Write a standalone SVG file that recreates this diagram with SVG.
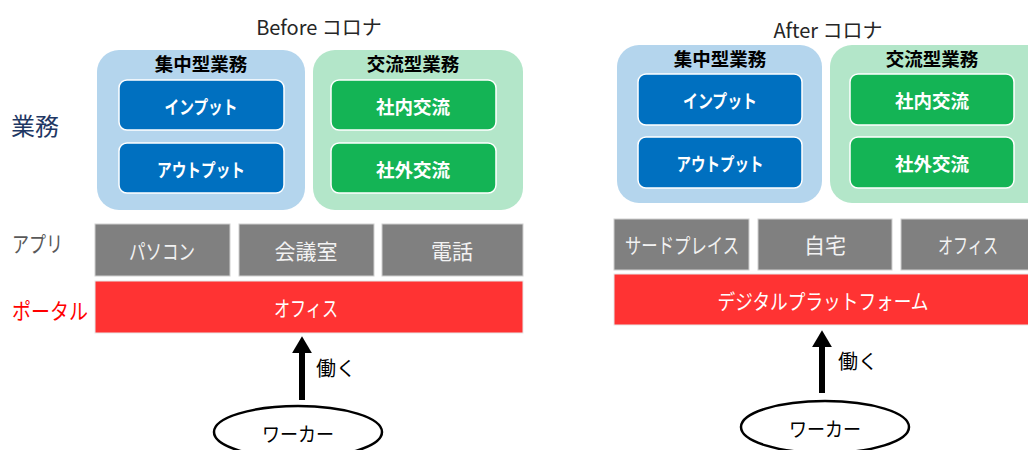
<svg xmlns="http://www.w3.org/2000/svg" width="1028" height="450" viewBox="0 0 1028 450">
<defs>
<style>
text{font-family:"Noto Sans CJK JP","Noto Sans",sans-serif;text-anchor:middle;dominant-baseline:central}
.ttl{font-size:20px;fill:#262626}
.hdr{font-size:18.5px;font-weight:bold;fill:#000}
.blueC{fill:#B4D5ED}
.greenC{fill:#B3E6C9}
.blue{fill:#0070C0;stroke:#fff;stroke-width:1.5}
.green{fill:#14B455;stroke:#fff;stroke-width:1.5}
.in{font-size:18.5px;font-weight:bold;fill:#fff}
.gray{fill:#808080;stroke:#D0D0D0;stroke-width:1}
.gt{font-size:21px;fill:#F2F2F2}
.red{fill:#FF3333;stroke:#E8E8E8;stroke-width:1}
.rt{font-size:21px;fill:#fff}
.lbl{text-anchor:start}
.wk{fill:#fff;stroke:#000;stroke-width:2.5}
.wt{font-size:20px;fill:#000}
</style>
<marker id="ah" markerWidth="3" markerHeight="3.4" refX="0" refY="1.65" orient="auto" markerUnits="strokeWidth"><path d="M0,0 L2.8,1.65 L0,3.3 Z" fill="#000"/></marker>
</defs>
<rect width="1028" height="450" fill="#fff"/>

<!-- Left labels -->
<text class="ttl" x="319" y="26">Before コロナ</text>
<text class="lbl" x="11" y="124" style="font-size:24px;fill:#1F3864">業務</text>
<text class="lbl" x="12" y="242" style="font-size:22px;fill:#595959" textLength="51" lengthAdjust="spacingAndGlyphs">アプリ</text>
<text class="lbl" x="12" y="309" style="font-size:22px;fill:#FF0000" textLength="76" lengthAdjust="spacingAndGlyphs">ポータル</text>

<!-- Before -->
<g id="b-shuchu"><rect class="blueC" x="97" y="50" width="208" height="160" rx="22"/><text class="hdr" x="201" y="63">集中型業務</text></g>
<g id="b-input"><rect class="blue" x="119" y="80" width="165" height="50" rx="8"/><text class="in" x="201" y="106" textLength="73" lengthAdjust="spacingAndGlyphs">インプット</text></g>
<g id="b-output"><rect class="blue" x="119" y="143" width="165" height="50" rx="8"/><text class="in" x="201" y="169" textLength="88" lengthAdjust="spacingAndGlyphs">アウトプット</text></g>
<g id="b-koryu"><rect class="greenC" x="313" y="50" width="210" height="160" rx="22"/><text class="hdr" x="413" y="63">交流型業務</text></g>
<g id="b-shanai"><rect class="green" x="331" y="80" width="165" height="50" rx="8"/><text class="in" x="413" y="106">社内交流</text></g>
<g id="b-shagai"><rect class="green" x="331" y="143" width="165" height="50" rx="8"/><text class="in" x="413" y="169">社外交流</text></g>
<g id="b-pc"><rect class="gray" x="95" y="224" width="135" height="52"/><text class="gt" x="162" y="250" textLength="66" lengthAdjust="spacingAndGlyphs">パソコン</text></g>
<g id="b-meeting"><rect class="gray" x="239" y="224" width="135" height="52"/><text class="gt" x="306" y="250">会議室</text></g>
<g id="b-phone"><rect class="gray" x="382" y="224" width="141" height="52"/><text class="gt" x="452" y="250">電話</text></g>
<g id="b-office"><rect class="red" x="95" y="281" width="428" height="52"/><text class="rt" x="306" y="307" textLength="64" lengthAdjust="spacingAndGlyphs">オフィス</text></g>
<g id="b-worker"><ellipse class="wk" cx="298" cy="432" rx="84" ry="26"/><text class="wt" x="298" y="433" textLength="72" lengthAdjust="spacingAndGlyphs">ワーカー</text></g>

<!-- After -->
<text class="ttl" x="828" y="29">After コロナ</text>
<g id="a-shuchu"><rect class="blueC" x="617" y="45" width="205" height="158" rx="22"/><text class="hdr" x="720" y="58">集中型業務</text></g>
<g id="a-input"><rect class="blue" x="638" y="74" width="164" height="51" rx="8"/><text class="in" x="720" y="100" textLength="74" lengthAdjust="spacingAndGlyphs">インプット</text></g>
<g id="a-output"><rect class="blue" x="638" y="137" width="164" height="51" rx="8"/><text class="in" x="720" y="163" textLength="87" lengthAdjust="spacingAndGlyphs">アウトプット</text></g>
<g id="a-koryu"><rect class="greenC" x="830" y="45" width="220" height="158" rx="22"/><text class="hdr" x="932" y="58">交流型業務</text></g>
<g id="a-shanai"><rect class="green" x="850" y="74" width="164" height="51" rx="8"/><text class="in" x="932" y="100">社内交流</text></g>
<g id="a-shagai"><rect class="green" x="850" y="137" width="164" height="51" rx="8"/><text class="in" x="932" y="163">社外交流</text></g>
<g id="a-third"><rect class="gray" x="614" y="219" width="135" height="51"/><text class="gt" x="682" y="244" textLength="114" lengthAdjust="spacingAndGlyphs">サードプレイス</text></g>
<g id="a-home"><rect class="gray" x="758" y="219" width="134" height="51"/><text class="gt" x="825" y="244">自宅</text></g>
<g id="a-office"><rect class="gray" x="901" y="219" width="140" height="51"/><text class="gt" x="968" y="244" textLength="60" lengthAdjust="spacingAndGlyphs">オフィス</text></g>
<g id="a-platform"><rect class="red" x="614" y="274" width="430" height="51"/><text class="rt" x="823" y="300" textLength="211" lengthAdjust="spacingAndGlyphs">デジタルプラットフォーム</text></g>
<g id="a-worker"><ellipse class="wk" cx="825" cy="427" rx="84" ry="26"/><text class="wt" x="825" y="428" textLength="72" lengthAdjust="spacingAndGlyphs">ワーカー</text></g>

<!-- Connectors -->
<g id="connectors">
<line x1="302" y1="400" x2="302" y2="353" stroke="#000" stroke-width="6" marker-end="url(#ah)"/>
<text class="lbl" x="316" y="367" style="font-size:20px;fill:#000">働く</text>
<line x1="822" y1="393" x2="822" y2="347" stroke="#000" stroke-width="6" marker-end="url(#ah)"/>
<text class="lbl" x="838" y="360" style="font-size:20px;fill:#000">働く</text>
</g>
</svg>
